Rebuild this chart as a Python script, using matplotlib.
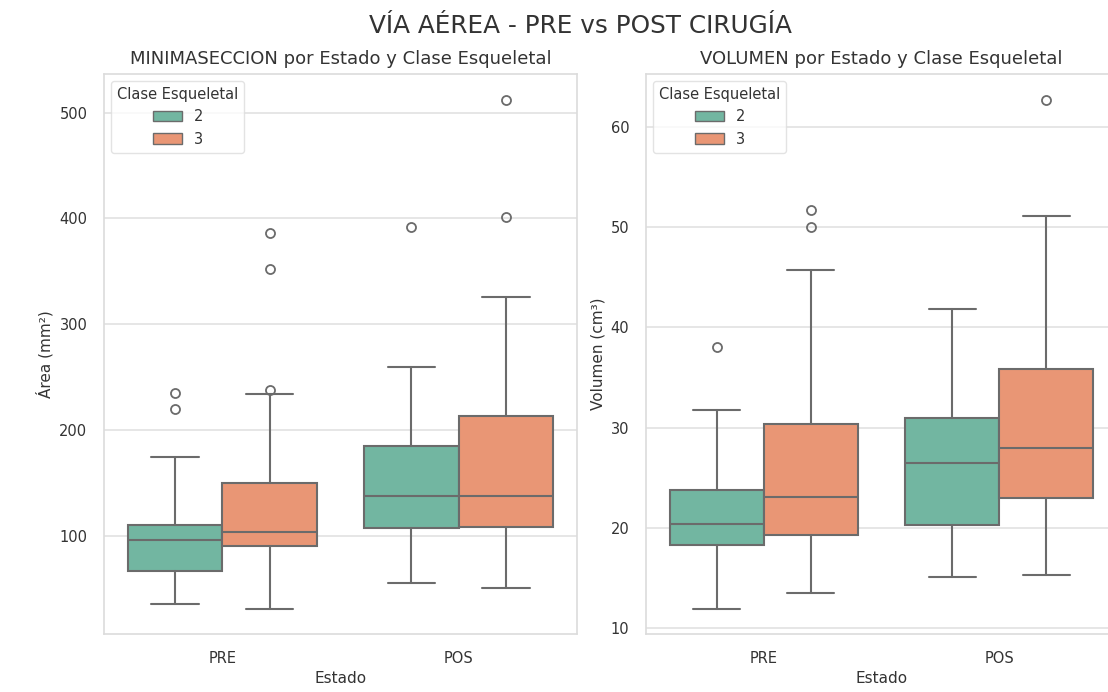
import matplotlib
matplotlib.use("Agg")
import matplotlib.pyplot as plt
import seaborn as sns
from matplotlib.patches import Patch

sns.set_theme(style="whitegrid")
plt.rcParams['font.family'] = ['DejaVu Sans']

# ---------------- data ----------------
estados = ["PRE", "POS"]
clases = ["2", "3"]

# MINIMASECCION (Área mm²): [PRE, POS] for each class
area_c2_whislo = [36, 56]
area_c2_q1 = [67, 108]
area_c2_med = [96, 138]
area_c2_q3 = [110, 185]
area_c2_whishi = [175, 260]
area_c2_fliers = [[220, 235], [392]]

area_c3_whislo = [31, 51]
area_c3_q1 = [91, 108.5]
area_c3_med = [104, 138]
area_c3_q3 = [150, 213]
area_c3_whishi = [234, 326]
area_c3_fliers = [[238, 352, 386], [401.5, 512]]

# VOLUMEN (cm³)
vol_c2_whislo = [11.9, 15.1]
vol_c2_q1 = [18.3, 20.3]
vol_c2_med = [20.4, 26.45]
vol_c2_q3 = [23.75, 30.95]
vol_c2_whishi = [31.75, 41.8]
vol_c2_fliers = [[38.0], []]

vol_c3_whislo = [13.45, 15.3]
vol_c3_q1 = [19.25, 23.0]
vol_c3_med = [23.1, 27.95]
vol_c3_q3 = [30.4, 35.9]
vol_c3_whishi = [45.7, 51.1]
vol_c3_fliers = [[50.0, 51.7], [62.7]]

area_yticks = [100, 200, 300, 400, 500]
vol_yticks = [10, 20, 30, 40, 50, 60]

palette = sns.color_palette("Set2", 2)
colors = [sns.desaturate(c, 0.75) for c in palette]
line_color = "#6b6b6b"
text_color = "#333333"
grid_color = "#e2e2e2"


def build_stats(whislo, q1, med, q3, whishi, fliers):
    out = []
    for i in range(len(whislo)):
        out.append(dict(whislo=whislo[i], q1=q1[i], med=med[i], q3=q3[i],
                        whishi=whishi[i], fliers=fliers[i]))
    return out


def draw(ax, stats_by_class, title, ylabel, yticks):
    width = 0.8 / len(stats_by_class)
    for k, stats in enumerate(stats_by_class):
        offset = -0.4 + width * (k + 0.5)
        positions = [i + offset for i in range(len(estados))]
        ax.bxp(stats, positions=positions, widths=width * 0.995,
               capwidths=width * 0.5, patch_artist=True,
               showfliers=True, manage_ticks=False,
               boxprops=dict(facecolor=colors[k], edgecolor=line_color, linewidth=1.5),
               medianprops=dict(color=line_color, linewidth=1.5),
               whiskerprops=dict(color=line_color, linewidth=1.5),
               capprops=dict(color=line_color, linewidth=1.5),
               flierprops=dict(marker="o", markerfacecolor="none",
                               markeredgecolor=line_color, markersize=6.5,
                               markeredgewidth=1.3))
    ax.set_xlim(-0.5, len(estados) - 0.5)
    ax.set_xticks(range(len(estados)))
    ax.set_xticklabels(estados)
    ax.xaxis.grid(False)
    ax.yaxis.grid(True, color=grid_color, linewidth=1.2)
    for sp in ax.spines.values():
        sp.set_color("#dcdcdc")
        sp.set_linewidth(1.2)
    ax.set_yticks(yticks)
    ax.set_title(title, fontsize=13, color=text_color, pad=7)
    ax.set_xlabel("Estado", fontsize=11, color=text_color)
    ax.set_ylabel(ylabel, fontsize=11, color=text_color)
    ax.tick_params(axis="both", labelsize=10.5, colors=text_color, pad=6)
    handles = [Patch(facecolor=colors[k], edgecolor=line_color, label=clases[k])
               for k in range(len(clases))]
    leg = ax.legend(handles=handles, title="Clase Esqueletal", loc="upper left",
                    fontsize=10.5, title_fontsize=10.5, frameon=True)
    leg.get_frame().set_edgecolor("#dddddd")
    for t in leg.get_texts():
        t.set_color(text_color)
    leg.get_title().set_color(text_color)


fig = plt.figure(figsize=(11.08, 6.92), dpi=100)
W, H = 1108, 692
ax1 = fig.add_axes([104 / W, 1 - 634 / H, 473 / W, 560 / H])
ax2 = fig.add_axes([646 / W, 1 - 634 / H, 471 / W, 560 / H])

area_stats = [
    build_stats(area_c2_whislo, area_c2_q1, area_c2_med, area_c2_q3, area_c2_whishi, area_c2_fliers),
    build_stats(area_c3_whislo, area_c3_q1, area_c3_med, area_c3_q3, area_c3_whishi, area_c3_fliers),
]
vol_stats = [
    build_stats(vol_c2_whislo, vol_c2_q1, vol_c2_med, vol_c2_q3, vol_c2_whishi, vol_c2_fliers),
    build_stats(vol_c3_whislo, vol_c3_q1, vol_c3_med, vol_c3_q3, vol_c3_whishi, vol_c3_fliers),
]

draw(ax1, area_stats, "MINIMASECCION por Estado y Clase Esqueletal", "Área (mm²)", area_yticks)
draw(ax2, vol_stats, "VOLUMEN por Estado y Clase Esqueletal", "Volumen (cm³)", vol_yticks)
ax1.set_ylim(7.5, 536.5)
ax2.set_ylim(9.4, 65.3)

fig.suptitle("VÍA AÉREA - PRE vs POST CIRUGÍA", x=580 / W, y=1 - 26 / H,
             va="center", fontsize=17.8, color=text_color)

fig.savefig("out.png", dpi=100)
